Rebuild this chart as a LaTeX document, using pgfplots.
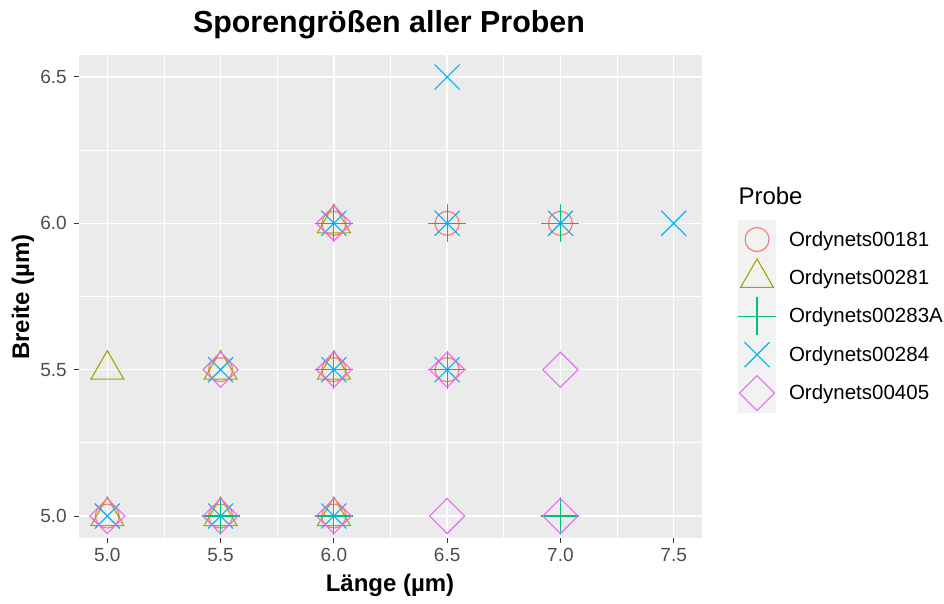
\documentclass[border=0pt]{standalone}
\usepackage{pgfplots}
\pgfplotsset{compat=1.18}
\usepackage{fontspec}
\setmainfont{Liberation Sans}
\definecolor{panelbg}{HTML}{EBEBEB}
\definecolor{keybg}{HTML}{F2F2F2}
\definecolor{serA}{HTML}{F8766D}
\definecolor{serB}{HTML}{A3A500}
\definecolor{serC}{HTML}{00BF7D}
\definecolor{serD}{HTML}{00B0F6}
\definecolor{serE}{HTML}{E76BF3}
\definecolor{ticklab}{HTML}{4D4D4D}
\definecolor{tickcol}{HTML}{333333}
\begin{document}
\begin{tikzpicture}[x=1pt,y=1pt]
\path[use as bounding box] (0,0) rectangle (944,603);
\begin{axis}[
  at={(79pt,65pt)}, anchor=south west,
  scale only axis, width=623pt, height=483pt,
  xmin=4.875, xmax=7.625, ymin=4.925, ymax=6.575,
  xtick={5,5.5,6,6.5,7,7.5}, ytick={5,5.5,6,6.5},
  minor xtick={5.25,5.75,6.25,6.75,7.25},
  minor ytick={5.25,5.75,6.25},
  xticklabels={5.0,5.5,6.0,6.5,7.0,7.5},
  yticklabels={5.0,5.5,6.0,6.5},
  grid=both,
  major grid style={white, line width=1.5pt},
  minor grid style={white, line width=0.75pt},
  axis background/.style={fill=panelbg},
  axis line style={draw=none},
  tick align=outside, tick pos=left,
  major tick length=5pt, minor tick length=0pt,
  tick style={color=tickcol, line width=1pt},
  ticklabel style={font=\fontsize{19}{22}\selectfont, text=ticklab},
  /pgf/number format/assume math mode=true,
  xticklabel style={inner sep=0pt, yshift=-5pt},
  yticklabel style={inner sep=0pt, xshift=-7pt},
  clip=false,
  legend style={at={(axis description cs:1.0578,0.6625)}, anchor=north west,
    yshift=-2pt,
    draw=none, fill=none, inner sep=0pt, outer sep=0pt,
    nodes={inner sep=0pt, outer sep=0pt, font=\fontsize{20.5}{23}\selectfont},
    row sep=-0.6pt, column sep=13pt},
  legend cell align=left,
  legend image code/.code={
    \fill[keybg] (0pt,-19.3pt) rectangle (37pt,19.3pt);
    \draw[mark repeat=2,mark phase=2,#1] plot coordinates {(0pt,0pt) (18.5pt,0pt) (37pt,0pt)};
  },
]
\addplot[only marks, draw=serA, mark=o, mark size=12pt, mark options={draw=serA, fill=none, line width=1.1pt}] coordinates {
 (5,5) (5.5,5) (6,5) (6,6) (6.5,6) (7,6) (5.5,5.5) (6,5.5) (6.5,5.5)};
\addlegendentry{Ordynets00181}
\addplot[only marks, draw=serB, mark=triangle, mark size=19pt, mark options={draw=serB, fill=none, line width=1.1pt}] coordinates {
 (5,5) (5.5,5) (6,5) (6,6) (5,5.5) (5.5,5.5) (6,5.5)};
\addlegendentry{Ordynets00281}
\addplot[only marks, draw=serC, mark=+, mark size=19pt, mark options={draw=serC, line width=1.1pt}] coordinates {
 (5.5,5) (6,5) (6,6) (6.5,6) (7,6) (6,5.5) (6.5,5.5) (7,5)};
\addlegendentry{Ordynets00283A}
\addplot[only marks, draw=serD, mark=x, mark size=17.7pt, mark options={draw=serD, line width=1.1pt}] coordinates {
 (5,5) (5.5,5) (6,5) (6,6) (6.5,6) (7,6) (5.5,5.5) (6,5.5) (6.5,5.5) (6.5,6.5) (7.5,6)};
\addlegendentry{Ordynets00284}
\addplot[only marks, draw=serE, mark=square, mark size=12.4pt, mark options={draw=serE, fill=none, rotate=45, line width=1.1pt}] coordinates {
 (5,5) (5.5,5) (6,5) (6,6) (5.5,5.5) (6,5.5) (6.5,5.5) (7,5.5) (6.5,5) (7,5)};
\addlegendentry{Ordynets00405}
\end{axis}
\node[font=\bfseries\fontsize{30.4}{36}\selectfont] at (389,578) {Sporengrößen aller Proben};
\node[font=\bfseries\fontsize{24}{28}\selectfont] at (390,18) {Länge (µm)};
\node[font=\bfseries\fontsize{24}{28}\selectfont, rotate=90] at (23,306) {Breite (µm)};
\node[font=\fontsize{24}{28}\selectfont, anchor=west] at (735,407) {Probe};
\end{tikzpicture}
\end{document}
